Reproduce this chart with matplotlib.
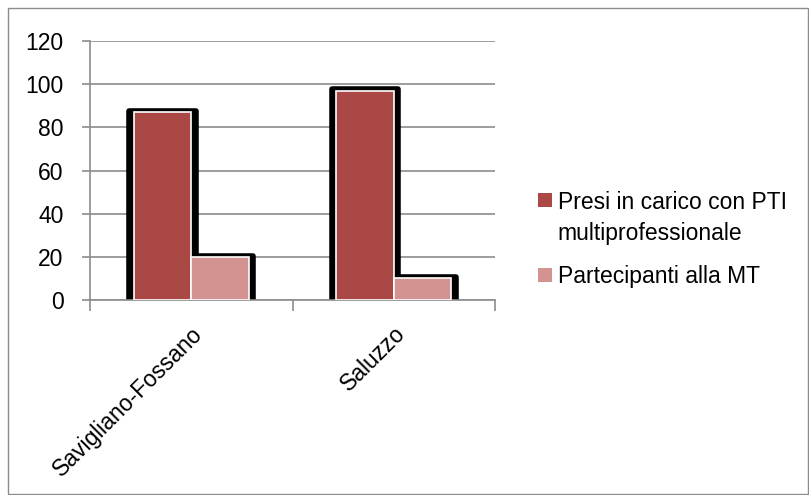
import matplotlib

matplotlib.use("Agg")
import matplotlib.pyplot as plt
import numpy as np
from matplotlib.patches import Rectangle
from matplotlib.legend_handler import HandlerPatch

categories = ["Savigliano-Fossano", "Saluzzo"]
presi = [87, 97]
partecipanti = [20, 10]
series_labels = ["Presi in carico con PTI\nmultiprofessionale", "Partecipanti alla MT"]
y_ticks = [0, 20, 40, 60, 80, 100, 120]

dark = "#A94845"
light = "#D39391"
grid_col = "#8C8C8C"
fs = 16.5

plt.rcParams["font.family"] = ["Liberation Sans", "DejaVu Sans"]

fig = plt.figure(figsize=(8.09, 4.95), dpi=100)
ax = fig.add_axes([90 / 809, 1 - 300 / 495, (495 - 90) / 809, (300 - 41) / 495])

x = np.arange(len(categories))
w = 0.285
pad_x = 0.022

# black "shadow" outline behind the bars (slightly wider than the bars)
for vals, off in [(presi, -w / 2), (partecipanti, w / 2)]:
    ax.bar(x + off, np.array(vals) + 0.6, w + 2 * pad_x, color="black",
           edgecolor="black", linewidth=4, joinstyle="round", zorder=2)

ax.bar(x - w / 2, presi, w, color=dark, edgecolor="white", linewidth=1.2, zorder=3)
ax.bar(x + w / 2, partecipanti, w, color=light, edgecolor="white", linewidth=1.2, zorder=3)

ax.set_xlim(-0.5, len(categories) - 0.5)
ax.set_ylim(0, 120)
ax.set_yticks(y_ticks)
ax.yaxis.grid(True, color=grid_col, linewidth=1.2, zorder=0)
ax.set_axisbelow(True)

ax.set_xticks(x)
ax.set_xticklabels(categories, rotation=45, ha="right", va="top",
                   rotation_mode="anchor", fontsize=fs)
ax.set_xticks([-0.5, 0.5, 1.5], minor=True)
ax.tick_params(axis="x", which="major", length=0, pad=16)
ax.tick_params(axis="x", which="minor", length=8, color=grid_col, width=1.2)
ax.tick_params(axis="y", length=6, color=grid_col, width=1.2, labelsize=fs, pad=13)

for s in ["top", "right"]:
    ax.spines[s].set_visible(False)
for s in ["left", "bottom"]:
    ax.spines[s].set_color(grid_col)
    ax.spines[s].set_linewidth(1.2)


def square_top(legend, orig_handle, xdescent, ydescent, width, height, fontsize):
    # put the marker next to the first line of a multi-line label
    lines = orig_handle.get_label().count("\n")
    shift = lines * fontsize * 0.85
    side = height * 1.0
    return Rectangle((-xdescent, -ydescent + shift), side, side)


handles = [Rectangle((0, 0), 1, 1, facecolor=c, edgecolor="none", label=l)
           for c, l in zip([dark, light], series_labels)]
leg = fig.legend(handles, series_labels, loc="upper left",
                 bbox_to_anchor=(529 / 809, 1 - 182 / 495),
                 frameon=False, fontsize=16.5, handlelength=0.55, handleheight=0.55,
                 handletextpad=0.3, labelspacing=0.85, borderaxespad=0,
                 handler_map={Rectangle: HandlerPatch(patch_func=square_top)})
for t in leg.get_texts():
    t.set_linespacing(1.45)

# outer chart border
fig.patches.append(Rectangle((8 / 809, 1 / 495), 800 / 809, 486 / 495,
                             transform=fig.transFigure, fill=False,
                             edgecolor="#8C8C8C", linewidth=1))

fig.savefig("out.png", dpi=100)
